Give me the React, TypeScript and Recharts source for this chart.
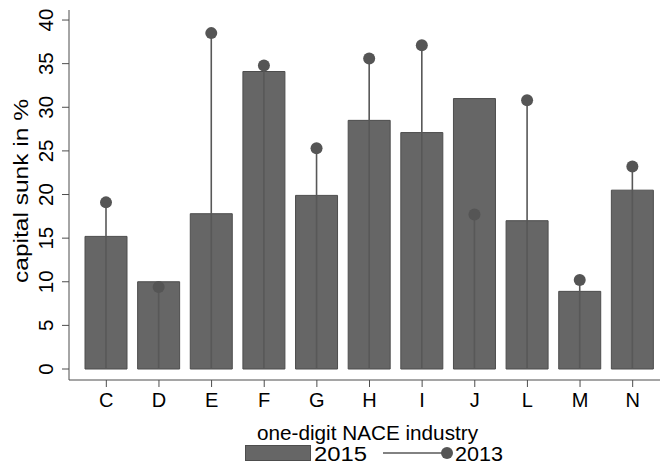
import React from 'react';
import { ComposedChart, Bar, XAxis, YAxis, Legend } from 'recharts';

// one-digit NACE industries
const industries = ['C', 'D', 'E', 'F', 'G', 'H', 'I', 'J', 'L', 'M', 'N'];
// capital sunk in %, 2015 (bars)
const sunk2015 = [15.2, 10.0, 17.8, 34.1, 19.9, 28.5, 27.1, 31.0, 17.0, 8.9, 20.5];
// capital sunk in %, 2013 (spikes)
const sunk2013 = [19.1, 9.4, 38.5, 34.8, 25.3, 35.6, 37.1, 17.7, 30.8, 10.2, 23.2];
const yTicks = [0, 5, 10, 15, 20, 25, 30, 35, 40];

const data = industries.map((code, i) => ({
  code,
  y2015: sunk2015[i],
  y2013: sunk2013[i],
}));

const FONT = '"Liberation Sans", Arial, Helvetica, sans-serif';
const BAR_FILL = '#666666';
const BAR_STROKE = '#4d4d4d';
const SPIKE = '#585858';
const AXIS = '#4d4d4d';

// dot on top of a vertical line down to zero
const Spike = (props: any) => {
  const { x, y, width, height } = props;
  if (x == null || y == null) return null;
  const cx = x + width / 2;
  return (
    <g>
      <line x1={cx} y1={y} x2={cx} y2={y + height} stroke={SPIKE} strokeWidth={1.6} />
      <circle cx={cx} cy={y} r={6} fill="#555555" />
    </g>
  );
};

const YTick = (props: any) => {
  const { x, y, payload } = props;
  return (
    <text
      x={x}
      y={y}
      transform={`rotate(-90 ${x} ${y})`}
      textAnchor="middle"
      fontSize={20.5}
      fontFamily={FONT}
      fill="#000"
    >
      {payload.value}
    </text>
  );
};

const XTick = (props: any) => {
  const { x, y, payload } = props;
  return (
    <text x={x} y={y + 14} textAnchor="middle" fontSize={20} fontFamily={FONT} fill="#000">
      {payload.value}
    </text>
  );
};

const YTitle = (props: any) => {
  const vb = props.viewBox || { x: 0, y: 10, width: 69, height: 370 };
  const x = vb.x + 28;
  const y = vb.y + vb.height / 2 - 4;
  return (
    <text
      x={x}
      y={y}
      transform={`rotate(-90 ${x} ${y})`}
      textAnchor="middle"
      fontSize={20}
      fontFamily={FONT}
      fill="#000"
      textLength={184}
      lengthAdjust="spacingAndGlyphs"
    >
      capital sunk in %
    </text>
  );
};

const XTitle = (props: any) => {
  const vb = props.viewBox || { x: 69, y: 380, width: 591, height: 60 };
  return (
    <text
      x={vb.x + vb.width / 2 + 3}
      y={vb.y + vb.height}
      textAnchor="middle"
      fontSize={19.5}
      fontFamily={FONT}
      fill="#000"
      textLength={221}
      lengthAdjust="spacingAndGlyphs"
    >
      one-digit NACE industry
    </text>
  );
};

const LegendBox = () => (
  <svg width={661} height={28} style={{ display: 'block' }}>
    <rect x={245.5} y={5.5} width={65} height={15} fill={BAR_FILL} stroke={BAR_STROKE} />
    <text x={314} y={20.5} fontSize={20} fontFamily={FONT} fill="#000" textLength={53} lengthAdjust="spacingAndGlyphs">
      2015
    </text>
    <line x1={383} y1={13} x2={447} y2={13} stroke={SPIKE} strokeWidth={1.6} />
    <circle cx={447} cy={13} r={6} fill="#555555" />
    <text x={455} y={20.5} fontSize={20} fontFamily={FONT} fill="#000" textLength={48} lengthAdjust="spacingAndGlyphs">
      2013
    </text>
  </svg>
);

export default function App() {
  return (
    <div style={{ width: 661, height: 468, background: '#fff' }}>
      <style>{`body { margin: 0; }`}</style>
      <ComposedChart
        width={661}
        height={468}
        data={data}
        margin={{ top: 10, right: 1, left: 0, bottom: 0 }}
        barGap={-42}
      >
        <XAxis
          dataKey="code"
          height={60}
          padding={{ left: 11, right: 1 }}
          tickSize={7}
          tickMargin={6}
          stroke={AXIS}
          tickLine={{ stroke: AXIS }}
          tick={<XTick />}
          label={<XTitle />}
        />
        <YAxis
          width={69}
          type="number"
          domain={[-1.26, 41.15]}
          ticks={yTicks}
          interval={0}
          tickSize={7}
          tickMargin={9}
          stroke={AXIS}
          tickLine={{ stroke: AXIS }}
          tick={<YTick />}
          label={<YTitle />}
        />
        <Legend
          verticalAlign="bottom"
          content={() => <LegendBox />}
          wrapperStyle={{ left: 0, width: 661, bottom: 0, height: 28 }}
        />
        <Bar
          dataKey="y2015"
          name="2015"
          barSize={42}
          fill={BAR_FILL}
          stroke={BAR_STROKE}
          strokeWidth={1}
          isAnimationActive={false}
        />
        <Bar
          dataKey="y2013"
          name="2013"
          barSize={42}
          shape={<Spike />}
          isAnimationActive={false}
        />
      </ComposedChart>
    </div>
  );
}
